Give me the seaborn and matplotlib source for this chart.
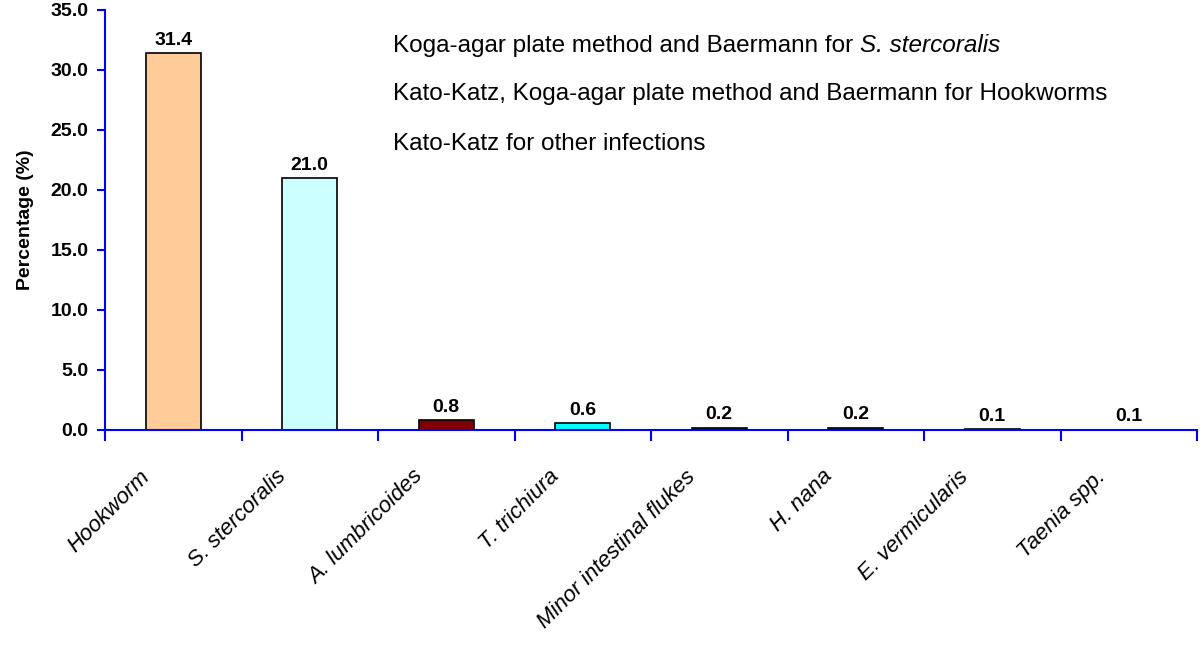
import matplotlib
matplotlib.use("Agg")
import matplotlib.pyplot as plt
import matplotlib.transforms as mtransforms
import pandas as pd
import seaborn as sns

# data
parasites = ["Hookworm", "S. stercoralis", "A. lumbricoides", "T. trichiura",
             "Minor intestinal flukes", "H. nana", "E. vermicularis", "Taenia spp."]
prevalence = [31.4, 21.0, 0.8, 0.6, 0.2, 0.2, 0.1, 0.1]
bar_colors = ["#FFCC99", "#CCFFFF", "#800000", "#00FFFF",
              "#000080", "#000080", "#000080", "#FFFFFF"]
y_ticks = [0, 5, 10, 15, 20, 25, 30, 35]
notes = ["Koga-agar plate method and Baermann for ",
         "Kato-Katz, Koga-agar plate method and Baermann for Hookworms",
         "Kato-Katz for other infections"]

df = pd.DataFrame({"parasite": parasites, "prevalence": prevalence})

sns.set_style("ticks")
plt.rcParams["font.family"] = ["Liberation Sans", "DejaVu Sans"]
plt.rcParams["text.color"] = "black"
plt.rcParams["xtick.color"] = "#0000FF"
plt.rcParams["ytick.color"] = "#0000FF"
plt.rcParams["xtick.labelcolor"] = "black"
plt.rcParams["ytick.labelcolor"] = "black"
plt.rcParams["axes.labelcolor"] = "black"

fig = plt.figure(figsize=(12, 6.46), dpi=100)
ax = fig.add_axes([0.0875, 0.3344, 0.910, 0.6502])

sns.barplot(data=df, x="parasite", y="prevalence", hue="parasite",
            palette=bar_colors, legend=False, width=0.4, saturation=1,
            edgecolor="black", linewidth=1.2, ax=ax)

# the Taenia bar is not visible in the reference
ax.patches[-1].set_edgecolor("white")

for cont in ax.containers:
    ax.bar_label(cont, fmt="%.1f", padding=3, fontsize=14, fontweight="bold",
                 color="black")

ax.set_xlim(-0.5, len(parasites) - 0.5)
ax.set_ylim(0, 35)
ax.set_yticks(y_ticks)
ax.set_yticklabels([f"{v:.1f}" for v in y_ticks], fontsize=14, fontweight="bold")

# category ticks sit between the bars
ax.set_xticks(range(len(parasites)))
ax.set_xticks([i - 0.5 for i in range(len(parasites) + 1)], minor=True)
ax.tick_params(axis="x", which="major", bottom=True, length=0, pad=26)
ax.tick_params(axis="x", which="minor", bottom=True, length=8, width=1.5, direction="out")
ax.tick_params(axis="y", left=True, length=6, width=1.5, direction="out", pad=6)
ax.set_xticklabels(parasites, rotation=45, ha="right", rotation_mode="anchor",
                   fontsize=16, fontstyle="italic")
shift = mtransforms.ScaledTranslation(-0.34, 0, fig.dpi_scale_trans)
for lbl in ax.get_xticklabels():
    lbl.set_transform(lbl.get_transform() + shift)

for side in ["top", "right"]:
    ax.spines[side].set_visible(False)
for side in ["left", "bottom"]:
    ax.spines[side].set_color("#0000FF")
    ax.spines[side].set_linewidth(1.5)

ax.set_xlabel("")
ax.set_ylabel("Percentage (%)", fontsize=14, fontweight="bold", labelpad=12)

# method notes in the upper right
note_y = [0.901, 0.786, 0.667]
texts = []
for txt, yy in zip(notes, note_y):
    texts.append(ax.text(0.264, yy, txt, transform=ax.transAxes, fontsize=17.5,
                         va="baseline"))
fig.canvas.draw()
bb = texts[0].get_window_extent().transformed(ax.transAxes.inverted())
ax.text(bb.x1, note_y[0], "S. stercoralis", transform=ax.transAxes, fontsize=17.5,
        fontstyle="italic", va="baseline")

fig.savefig("out.png", dpi=100)
